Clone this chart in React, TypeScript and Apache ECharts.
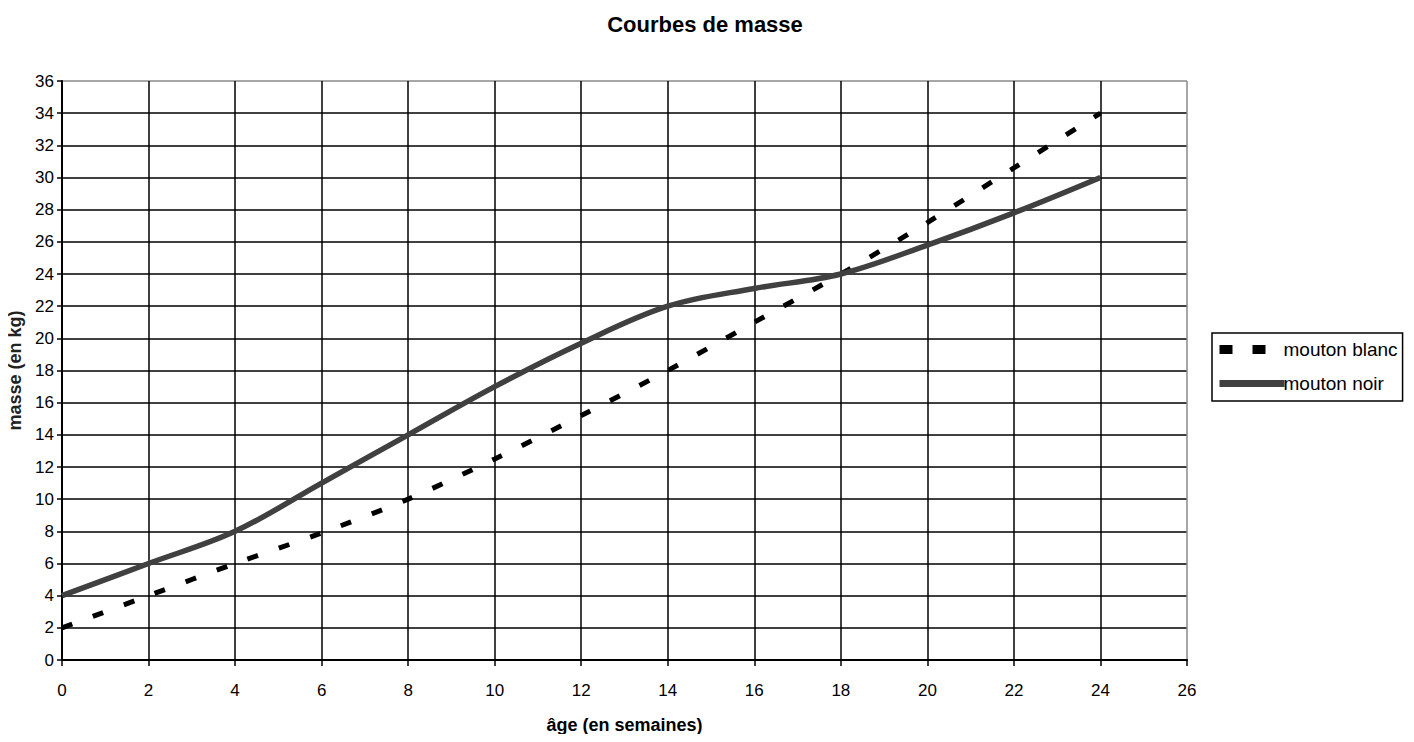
import React, { useEffect, useRef } from "react";
import * as echarts from "echarts";

const ages = [0, 2, 4, 6, 8, 10, 12, 14, 16, 18, 20, 22, 24];
const moutonBlanc = [2, 4, 6, 7.9, 10, 12.5, 15.2, 18, 21, 24, 27.2, 30.6, 34];
const moutonNoir = [4, 6, 8, 11, 14, 17, 19.7, 22, 23.1, 24, 25.8, 27.8, 30];
const xTicks = { min: 0, max: 26, interval: 2 };
const yTicks = { min: 0, max: 36, interval: 2 };

const FONT = "'Liberation Sans Narrow', 'Liberation Sans', Arial, sans-serif";

export default function App() {
  const ref = useRef<HTMLDivElement>(null);
  useEffect(() => {
    if (!ref.current) return;
    const chart = echarts.init(ref.current, null, { renderer: "svg" });
    const nY = (yTicks.max - yTicks.min) / yTicks.interval + 1;
    const nX = (xTicks.max - xTicks.min) / xTicks.interval + 1;
    const yColors = Array.from({ length: nY }, (_, i) => (i === nY - 1 ? "#8a8a8a" : "#000"));
    const xColors = Array.from({ length: nX }, (_, i) => (i === nX - 1 ? "#8a8a8a" : "#000"));
    chart.setOption({
      animation: false,
      backgroundColor: "#fff",
      textStyle: { fontFamily: FONT },
      title: {
        text: "Courbes de masse",
        left: 700,
        textAlign: "center",
        top: 8,
        textStyle: { fontFamily: FONT, fontSize: 22, fontWeight: "bold", color: "#000" },
      },
      grid: { left: 62, right: 227, top: 81, bottom: 82, show: false, containLabel: false, outerBoundsMode: "none" },
      legend: {
        orient: "vertical",
        left: 1212,
        top: 333,
        padding: [7, 5, 8, 3],
        itemGap: 15,
        itemWidth: 65,
        itemHeight: 20,
        borderColor: "#000",
        borderWidth: 1.5,
        itemStyle: { opacity: 0 },
        textStyle: { fontFamily: FONT, fontSize: 19, color: "#000", padding: [0, 0, 0, -6] },
        data: [
          { name: "mouton blanc", lineStyle: { color: "#000", width: 9, type: [13, 20] }, itemStyle: { opacity: 0 } },
          { name: "mouton noir", lineStyle: { color: "#404040", width: 7, type: "solid" }, itemStyle: { opacity: 0 } },
        ],
      },
      xAxis: {
        type: "value",
        min: xTicks.min,
        max: xTicks.max,
        interval: xTicks.interval,
        name: "âge (en semaines)",
        nameLocation: "middle",
        nameGap: 56,
        nameTextStyle: { fontFamily: FONT, fontSize: 18, fontWeight: "bold", color: "#000" },
        axisLine: { lineStyle: { color: "#000", width: 2 } },
        axisTick: { show: true, length: 6, lineStyle: { color: "#000", width: 1.5 } },
        axisLabel: { fontFamily: FONT, fontSize: 17, color: "#000", margin: 22 },
        splitLine: { show: true, lineStyle: { color: xColors, width: 1.5 } },
      },
      yAxis: {
        type: "value",
        min: yTicks.min,
        max: yTicks.max,
        interval: yTicks.interval,
        name: "masse (en kg)",
        nameLocation: "middle",
        nameGap: 32,
        nameTextStyle: { fontFamily: FONT, fontSize: 18, fontWeight: "bold", color: "#222" },
        axisLine: { show: true, lineStyle: { color: "#000", width: 2 } },
        axisTick: { show: true, length: 5, lineStyle: { color: "#000", width: 1.5 } },
        axisLabel: { fontFamily: FONT, fontSize: 17, color: "#000", margin: 8 },
        splitLine: { show: true, lineStyle: { color: yColors, width: 1.5 } },
      },
      series: [
        {
          name: "mouton blanc",
          type: "line",
          data: ages.map((a, i) => [a, moutonBlanc[i]]),
          smooth: 0.3,
          symbol: "none",
          itemStyle: { color: "#000" },
          lineStyle: { color: "#000", width: 5, type: [11, 22] },
          z: 3,
        },
        {
          name: "mouton noir",
          type: "line",
          data: ages.map((a, i) => [a, moutonNoir[i]]),
          smooth: 0.35,
          symbol: "none",
          itemStyle: { color: "#404040" },
          lineStyle: { color: "#404040", width: 5.5 },
          z: 4,
        },
      ],
    });
    return () => chart.dispose();
  }, []);
  return <div ref={ref} style={{ width: 1414, height: 742, margin: -8 }} />;
}
